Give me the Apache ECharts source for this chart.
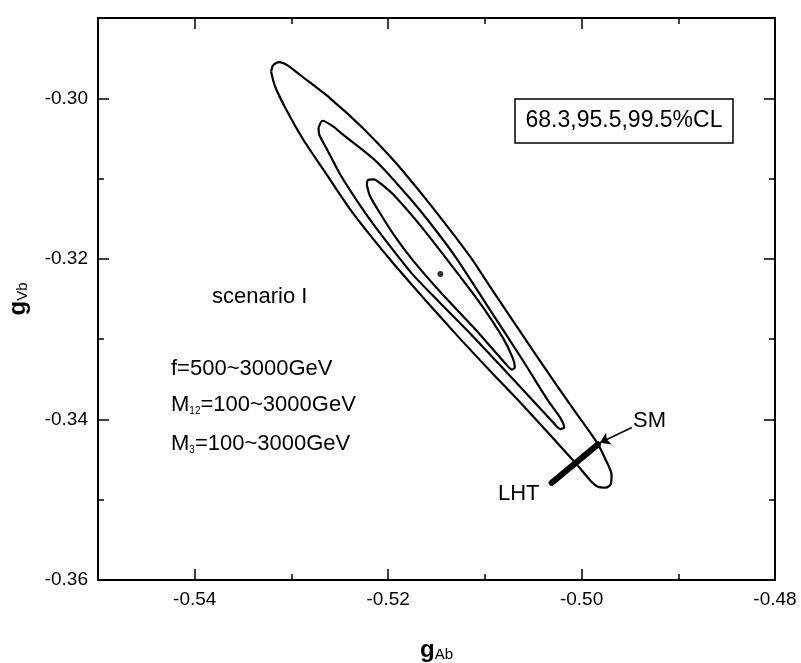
<!DOCTYPE html>
<html>
<head>
<meta charset="utf-8">
<script src="https://cdn.jsdelivr.net/npm/echarts@6/dist/echarts.min.js"></script>
<style>html,body{margin:0;padding:0;background:#fff}#c{width:801px;height:663px}</style>
</head>
<body>
<div id="c"></div>
<script>
// ---- data ----
const xRange = [-0.55, -0.48];
const yRange = [-0.36, -0.29];
const xTicks = [-0.54, -0.52, -0.50, -0.48];
const xMinorTicks = [-0.53, -0.51, -0.49];
const yTicks = [-0.36, -0.34, -0.32, -0.30];
const yMinorTicks = [-0.35, -0.33, -0.31];

// 99.5% CL contour
const outerContour = [
  [-0.5321,-0.2967],[-0.5319,-0.2959],[-0.5313,-0.2955],[-0.5304,-0.2959],[-0.5291,-0.2971],
  [-0.5260,-0.3000],[-0.5227,-0.3036],[-0.5193,-0.3079],[-0.5162,-0.3124],[-0.5136,-0.3164],
  [-0.5113,-0.3201],[-0.5095,-0.3234],[-0.5061,-0.3295],[-0.5026,-0.3357],[-0.5005,-0.3393],
  [-0.4984,-0.3429],[-0.4976,-0.3448],[-0.4969,-0.3469],[-0.4970,-0.3481],[-0.4975,-0.3485],
  [-0.4983,-0.3484],[-0.4991,-0.3476],[-0.5005,-0.3456],[-0.5026,-0.3428],[-0.5061,-0.3382],
  [-0.5095,-0.3339],[-0.5129,-0.3295],[-0.5164,-0.3248],[-0.5193,-0.3208],[-0.5217,-0.3173],
  [-0.5240,-0.3137],[-0.5263,-0.3096],[-0.5288,-0.3051],[-0.5305,-0.3015],[-0.5317,-0.2985],
  [-0.5321,-0.2967]
];
// 95.5% CL contour
const middleContour = [
  [-0.5272,-0.3037],[-0.5268,-0.3028],[-0.5257,-0.3035],[-0.5247,-0.3045],[-0.5212,-0.3079],
  [-0.5178,-0.3124],[-0.5151,-0.3164],[-0.5129,-0.3200],[-0.5095,-0.3263],[-0.5061,-0.3326],
  [-0.5035,-0.3376],[-0.5022,-0.3398],[-0.5018,-0.3410],[-0.5022,-0.3412],[-0.5030,-0.3403],
  [-0.5043,-0.3386],[-0.5077,-0.3342],[-0.5112,-0.3297],[-0.5147,-0.3254],[-0.5175,-0.3219],
  [-0.5193,-0.3192],[-0.5214,-0.3159],[-0.5232,-0.3128],[-0.5250,-0.3094],[-0.5263,-0.3064],
  [-0.5271,-0.3046],[-0.5272,-0.3037]
];
// 68.3% CL contour
const innerContour = [
  [-0.5222,-0.3108],[-0.5221,-0.3102],[-0.5215,-0.3101],[-0.5207,-0.3107],[-0.5193,-0.3122],
  [-0.5167,-0.3158],[-0.5139,-0.3201],[-0.5105,-0.3255],[-0.5081,-0.3299],[-0.5071,-0.3324],
  [-0.5069,-0.3335],[-0.5072,-0.3338],[-0.5079,-0.3330],[-0.5112,-0.3285],[-0.5147,-0.3240],
  [-0.5175,-0.3201],[-0.5193,-0.3172],[-0.5209,-0.3142],[-0.5219,-0.3121],[-0.5222,-0.3108]
];
const bestFit = [[-0.5146, -0.3219]];
const lhtLine = [[-0.5031, -0.3479], [-0.4983, -0.3431]];
const smArrow = [[-0.4948, -0.3410], [-0.4981, -0.3429]];

// ---- chart ----
const FONT = '"Liberation Sans", Arial, sans-serif';
const fmt = v => v.toFixed(2);
const gridRect = {left: 98, right: 26, top: 18, bottom: 83, containLabel: false, outerBoundsMode: 'none'};

const nameRich = {
  g: {fontSize: 24, fontWeight: 'bold', fontFamily: FONT, color: '#000', verticalAlign: 'bottom', lineHeight: 30},
  s: {fontSize: 15, fontFamily: FONT, color: '#000', verticalAlign: 'bottom', lineHeight: 22}
};
function xAx(gridIndex, pos, ticks, len, labels, line) {
  return {
    type: 'value', gridIndex, position: pos, min: xRange[0], max: xRange[1],
    axisLine: {show: line, onZero: false, lineStyle: {color: '#000', width: 2}},
    axisTick: {show: true, inside: true, length: len, customValues: ticks, lineStyle: {color: '#000', width: 1.5}},
    axisLabel: {show: labels, customValues: ticks, formatter: fmt, color: '#000', fontFamily: FONT, fontSize: 19, margin: 10},
    splitLine: {show: false},
    name: labels ? '{g|g}{s|Ab}' : '', nameLocation: 'middle', nameGap: 52,
    nameTextStyle: {rich: nameRich}
  };
}
function yAx(gridIndex, pos, ticks, len, labels, line) {
  return {
    type: 'value', gridIndex, position: pos, min: yRange[0], max: yRange[1],
    axisLine: {show: line, onZero: false, lineStyle: {color: '#000', width: 2}},
    axisTick: {show: true, inside: true, length: len, customValues: ticks, lineStyle: {color: '#000', width: 1.5}},
    axisLabel: {show: labels, customValues: ticks, formatter: fmt, color: '#000', fontFamily: FONT, fontSize: 19, margin: 10},
    splitLine: {show: false},
    name: labels ? '{g|g}{s|Vb}' : '', nameLocation: 'middle', nameGap: 68, nameRotate: 90,
    nameTextStyle: {rich: nameRich}
  };
}

const contourStyle = {type: 'line', symbol: 'none', smooth: 0.25, silent: true,
  lineStyle: {color: '#000', width: 2.2}, animation: false};

const chart = echarts.init(document.getElementById('c'), null, {renderer: 'canvas'});
chart.setOption({
  backgroundColor: '#fff',
  animation: false,
  grid: [Object.assign({}, gridRect), Object.assign({}, gridRect)],
  xAxis: [
    xAx(0, 'bottom', xTicks, 11, true, true),
    xAx(0, 'top', xTicks, 11, false, true),
    xAx(1, 'bottom', xMinorTicks, 6, false, false),
    xAx(1, 'top', xMinorTicks, 6, false, false)
  ],
  yAxis: [
    yAx(0, 'left', yTicks, 11, true, true),
    yAx(0, 'right', yTicks, 11, false, true),
    yAx(1, 'left', yMinorTicks, 6, false, false),
    yAx(1, 'right', yMinorTicks, 6, false, false)
  ],
  series: [
    Object.assign({name: '99.5%', data: outerContour, xAxisIndex: 0, yAxisIndex: 0}, contourStyle),
    Object.assign({name: '95.5%', data: middleContour, xAxisIndex: 0, yAxisIndex: 0}, contourStyle),
    Object.assign({name: '68.3%', data: innerContour, xAxisIndex: 0, yAxisIndex: 0}, contourStyle),
    {type: 'scatter', data: bestFit, symbol: 'circle', symbolSize: 6, itemStyle: {color: '#000'}, silent: true},
    {type: 'line', data: lhtLine, symbol: 'none', lineStyle: {color: '#000', width: 6, cap: 'round'}, silent: true},
    {type: 'lines', coordinateSystem: 'cartesian2d', xAxisIndex: 0, yAxisIndex: 0, silent: true,
     symbol: ['none', 'arrow'], symbolSize: 10,
     lineStyle: {color: '#000', width: 1.5, opacity: 1},
     data: [{coords: smArrow}]}
  ],
  graphic: [
    {type: 'rect', shape: {x: 515, y: 99, width: 218, height: 44}, style: {fill: '#fff', stroke: '#000', lineWidth: 1.5}, z: 100},
    {type: 'text', x: 624, y: 121, z: 101, style: {text: '68.3,95.5,99.5%CL', font: '23px ' + FONT, fill: '#000', align: 'center', verticalAlign: 'middle'}},
    {type: 'text', x: 212, y: 297, z: 101, style: {text: 'scenario I', font: '22px ' + FONT, fill: '#000', verticalAlign: 'middle'}},
    {type: 'text', x: 171, y: 369, z: 101, style: {text: 'f=500~3000GeV', font: '22px ' + FONT, fill: '#000', verticalAlign: 'middle'}},
    {type: 'text', x: 171, y: 403, z: 101, style: {
      text: '{n|M}{s|12}{n|=100~3000GeV}', verticalAlign: 'middle',
      rich: {n: {fontSize: 22, fontFamily: FONT, color: '#000', verticalAlign: 'bottom', lineHeight: 26},
             s: {fontSize: 10, fontFamily: FONT, color: '#000', verticalAlign: 'bottom', lineHeight: 18}}}},
    {type: 'text', x: 171, y: 442, z: 101, style: {
      text: '{n|M}{s|3}{n|=100~3000GeV}', verticalAlign: 'middle',
      rich: {n: {fontSize: 22, fontFamily: FONT, color: '#000', verticalAlign: 'bottom', lineHeight: 26},
             s: {fontSize: 10, fontFamily: FONT, color: '#000', verticalAlign: 'bottom', lineHeight: 18}}}},
    {type: 'text', x: 633, y: 421, z: 101, style: {text: 'SM', font: '22px ' + FONT, fill: '#000', verticalAlign: 'middle'}},
    {type: 'text', x: 498, y: 494, z: 101, style: {text: 'LHT', font: '22px ' + FONT, fill: '#000', verticalAlign: 'middle'}}
  ]
});
</script>
</body>
</html>
